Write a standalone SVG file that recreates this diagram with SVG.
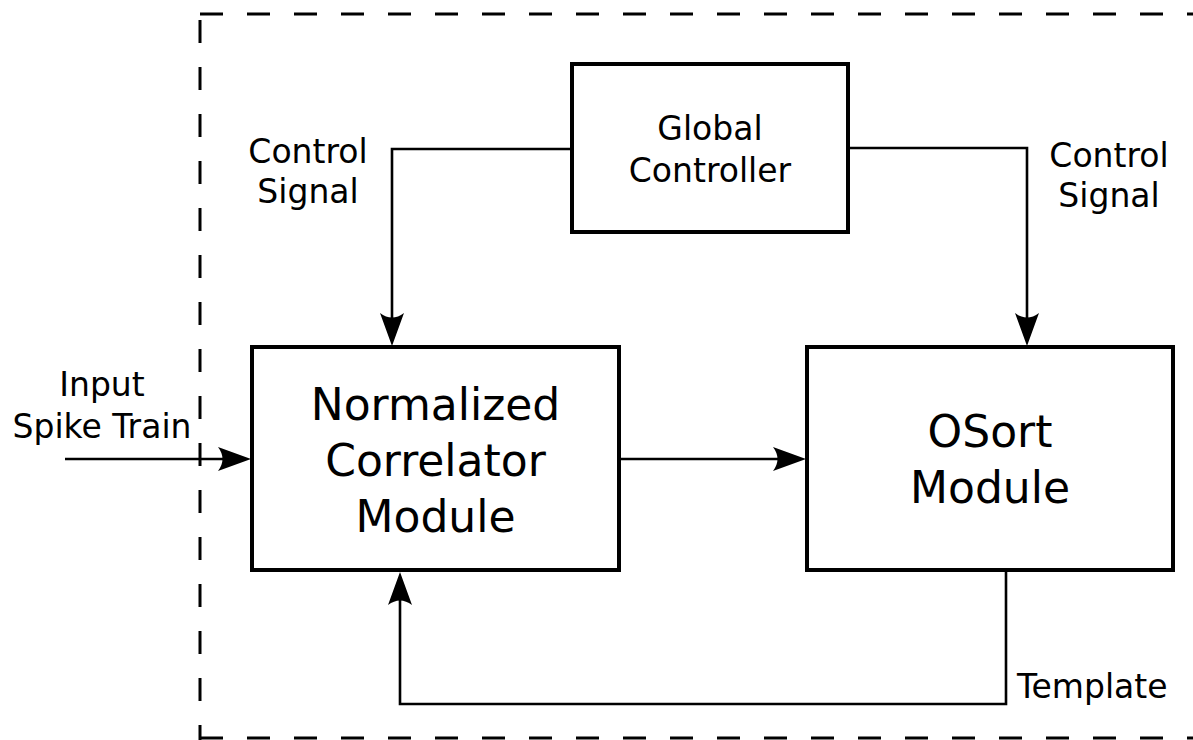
<svg xmlns="http://www.w3.org/2000/svg" width="1193" height="740" viewBox="0 0 1193 740">
<style>
text{font-family:"DejaVu Sans","Liberation Sans",sans-serif;fill:#000;}
.s{font-size:33px;}
.l{font-size:44px;}
.box{fill:#fff;stroke:#000;stroke-width:4;}
.con{fill:none;stroke:#000;stroke-width:2.6;}
.dash{fill:none;stroke:#000;stroke-width:3;stroke-dasharray:23 24;}
</style>
<defs>
<marker id="arr" markerUnits="userSpaceOnUse" markerWidth="34" markerHeight="26" viewBox="0 0 34 26" refX="22" refY="13" orient="auto">
<path d="M33,13 L0,1 Q9,13 0,25 Z" fill="#000"/>
</marker>
</defs>
<rect width="1193" height="740" fill="#fff"/>
<g id="border">
<path class="dash" d="M200,14 H1193"/>
<path class="dash" d="M200,20 V740"/>
<path class="dash" d="M200,738 H1193"/>
</g>
<g id="connectors">
<path class="con" d="M572,149 H392 V335" marker-end="url(#arr)"/>
<path class="con" d="M848,148 H1027 V335" marker-end="url(#arr)"/>
<path class="con" d="M65,459 H240" marker-end="url(#arr)"/>
<path class="con" d="M619,459 H795" marker-end="url(#arr)"/>
<path class="con" d="M1006,570 V704 H400 V583" marker-end="url(#arr)"/>
</g>
<g id="global-controller">
<rect class="box" x="572" y="64" width="276" height="168"/>
<text class="s" x="710" y="140" text-anchor="middle">Global</text>
<text class="s" x="710" y="182" text-anchor="middle">Controller</text>
</g>
<g id="correlator">
<rect class="box" x="252" y="347" width="367" height="223"/>
<text class="l" x="435.5" y="420" text-anchor="middle">Normalized</text>
<text class="l" x="435.5" y="476" text-anchor="middle">Correlator</text>
<text class="l" x="435.5" y="532" text-anchor="middle">Module</text>
</g>
<g id="osort">
<rect class="box" x="807" y="347" width="366" height="223"/>
<text class="l" x="990" y="447" text-anchor="middle">OSort</text>
<text class="l" x="990" y="503" text-anchor="middle">Module</text>
</g>
<g id="labels">
<text class="s" x="308" y="163" text-anchor="middle">Control</text>
<text class="s" x="308" y="203" text-anchor="middle">Signal</text>
<text class="s" x="1109" y="167" text-anchor="middle">Control</text>
<text class="s" x="1109" y="207" text-anchor="middle">Signal</text>
<text class="s" x="102" y="396" text-anchor="middle">Input</text>
<text class="s" x="102" y="438" text-anchor="middle">Spike Train</text>
<text class="s" x="1017" y="698">Template</text>
</g>
</svg>
